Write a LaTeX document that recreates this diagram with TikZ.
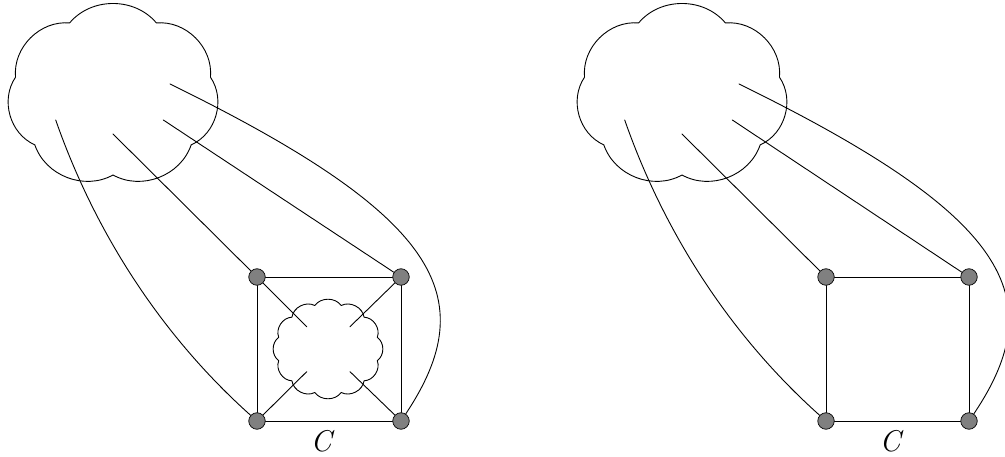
\documentclass[tikz,border=0pt]{standalone}
\usepackage{fontspec}
\definecolor{vgray}{RGB}{128,128,128}
\begin{document}
\begin{tikzpicture}[x=1pt,y=-1pt,line width=0.9pt,line join=round,line cap=round,
  vtx/.style={circle,draw=black,fill=vgray,line width=0.7pt,minimum size=16.5pt,inner sep=0pt},
  lbl/.style={font=\fontsize{30}{34}\selectfont\itshape,inner sep=0pt}]
\useasboundingbox (0,0) rectangle (1005,457);

% ---------------- left figure ----------------
\draw ({113+100*cos(90)},{95+80*sin(90)})
  \foreach \k in {1,...,7}{ to[bend left=50] ({113+100*cos(90+\k*360/7)},{95+80*sin(90+\k*360/7)}) };
\draw ({328+51*cos(15)},{349+45*sin(15)})
  \foreach \k in {1,...,12}{ to[bend left=55] ({328+51*cos(15+\k*30)},{349+45*sin(15+\k*30)}) };

\node[vtx] (L1) at (257,277) {};
\node[vtx] (L2) at (401,277) {};
\node[vtx] (L3) at (257,421) {};
\node[vtx] (L4) at (401,421) {};
\coordinate (lc1) at (55.7,120);
\coordinate (lc2) at (113,134);
\coordinate (lc3) at (163.3,120);
\coordinate (lc4) at (170,84);
\coordinate (li1) at (306.7,326.7);
\coordinate (li2) at (350,326.7);
\coordinate (li3) at (306.7,371.7);
\coordinate (li4) at (350,371.7);

\draw (L1) -- (L2) -- (L4) -- (L3) -- (L1);
\draw (L1) -- (li1); \draw (L2) -- (li2); \draw (L3) -- (li3); \draw (L4) -- (li4);
\draw (lc2) -- (L1);
\draw (lc3) -- (L2);
\draw (lc1) .. controls (96.6,236.9) and (164.5,338.3) .. (L3);
\draw (lc4) .. controls (439.3,215.9) and (483.9,296.4) .. (L4);
\node[lbl] (LC) at (321,441) {C};

% ---------------- right figure ----------------
\begin{scope}[xshift=569pt]
\draw ({113+100*cos(90)},{95+80*sin(90)})
  \foreach \k in {1,...,7}{ to[bend left=50] ({113+100*cos(90+\k*360/7)},{95+80*sin(90+\k*360/7)}) };
\node[vtx] (R1) at (257,277) {};
\node[vtx] (R2) at (400,277) {};
\node[vtx] (R3) at (257,421) {};
\node[vtx] (R4) at (400,421) {};
\coordinate (rc1) at (55.7,120);
\coordinate (rc2) at (113,134);
\coordinate (rc3) at (163.3,120);
\coordinate (rc4) at (170,84);
\draw (R1) -- (R2) -- (R4) -- (R3) -- (R1);
\draw (rc2) -- (R1);
\draw (rc3) -- (R2);
\draw (rc1) .. controls (96.6,236.9) and (164.5,338.3) .. (R3);
\draw (rc4) .. controls (439.3,215.9) and (483.9,296.4) .. (R4);
\node[lbl] (RC) at (321,441) {C};
\end{scope}
\end{tikzpicture}
\end{document}
